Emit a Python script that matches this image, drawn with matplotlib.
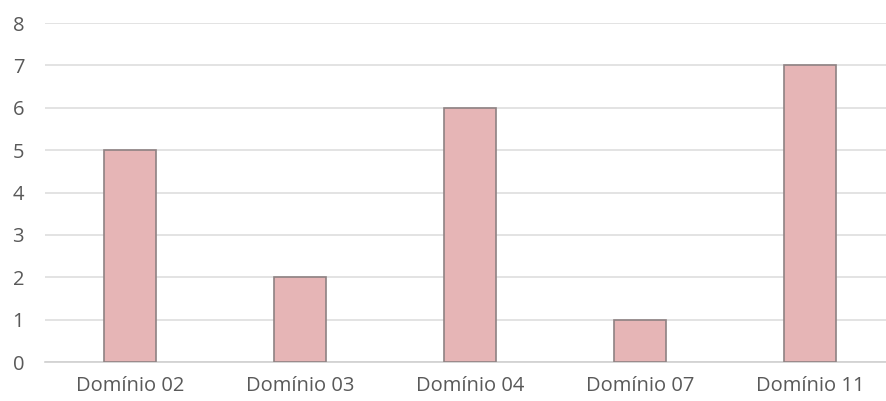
import matplotlib
matplotlib.use("Agg")
import matplotlib.pyplot as plt

categories = ["Domínio 02", "Domínio 03", "Domínio 04", "Domínio 07", "Domínio 11"]
values = [5, 2, 6, 1, 7]
yticks = [0, 1, 2, 3, 4, 5, 6, 7, 8]

plt.rcParams['font.family'] = ['Open Sans', 'DejaVu Sans']

fig = plt.figure(figsize=(8.86, 4.01), dpi=100)
W, H = 886, 401
left, right = 45, 895
y0, y8 = 362, 23
ax = fig.add_axes([left / W, (H - y0) / H, (right - left) / W, (y0 - y8) / H])

x = list(range(len(categories)))
ax.bar(x, values, width=0.31, color="#E6B5B6", edgecolor="#8E8283", linewidth=1.2, zorder=3)
ax.set_xlim(-0.5, len(categories) - 0.5)
ax.set_ylim(0, 8)
ax.set_yticks(yticks)
ax.set_xticks(x)
ax.set_xticklabels(categories)
ax.grid(axis="y", color="#DEDEDE", linewidth=1.2, zorder=0)
ax.set_axisbelow(True)
for s in ["top", "right", "left"]:
    ax.spines[s].set_visible(False)
ax.spines["bottom"].set_color("#D0D0D0")
ax.spines["bottom"].set_linewidth(1.2)
ax.tick_params(axis="both", length=0, colors="#595959", labelsize=14.5)
ax.tick_params(axis="y", pad=15)
ax.tick_params(axis="x", pad=10)

fig.savefig("out.png", dpi=100)
